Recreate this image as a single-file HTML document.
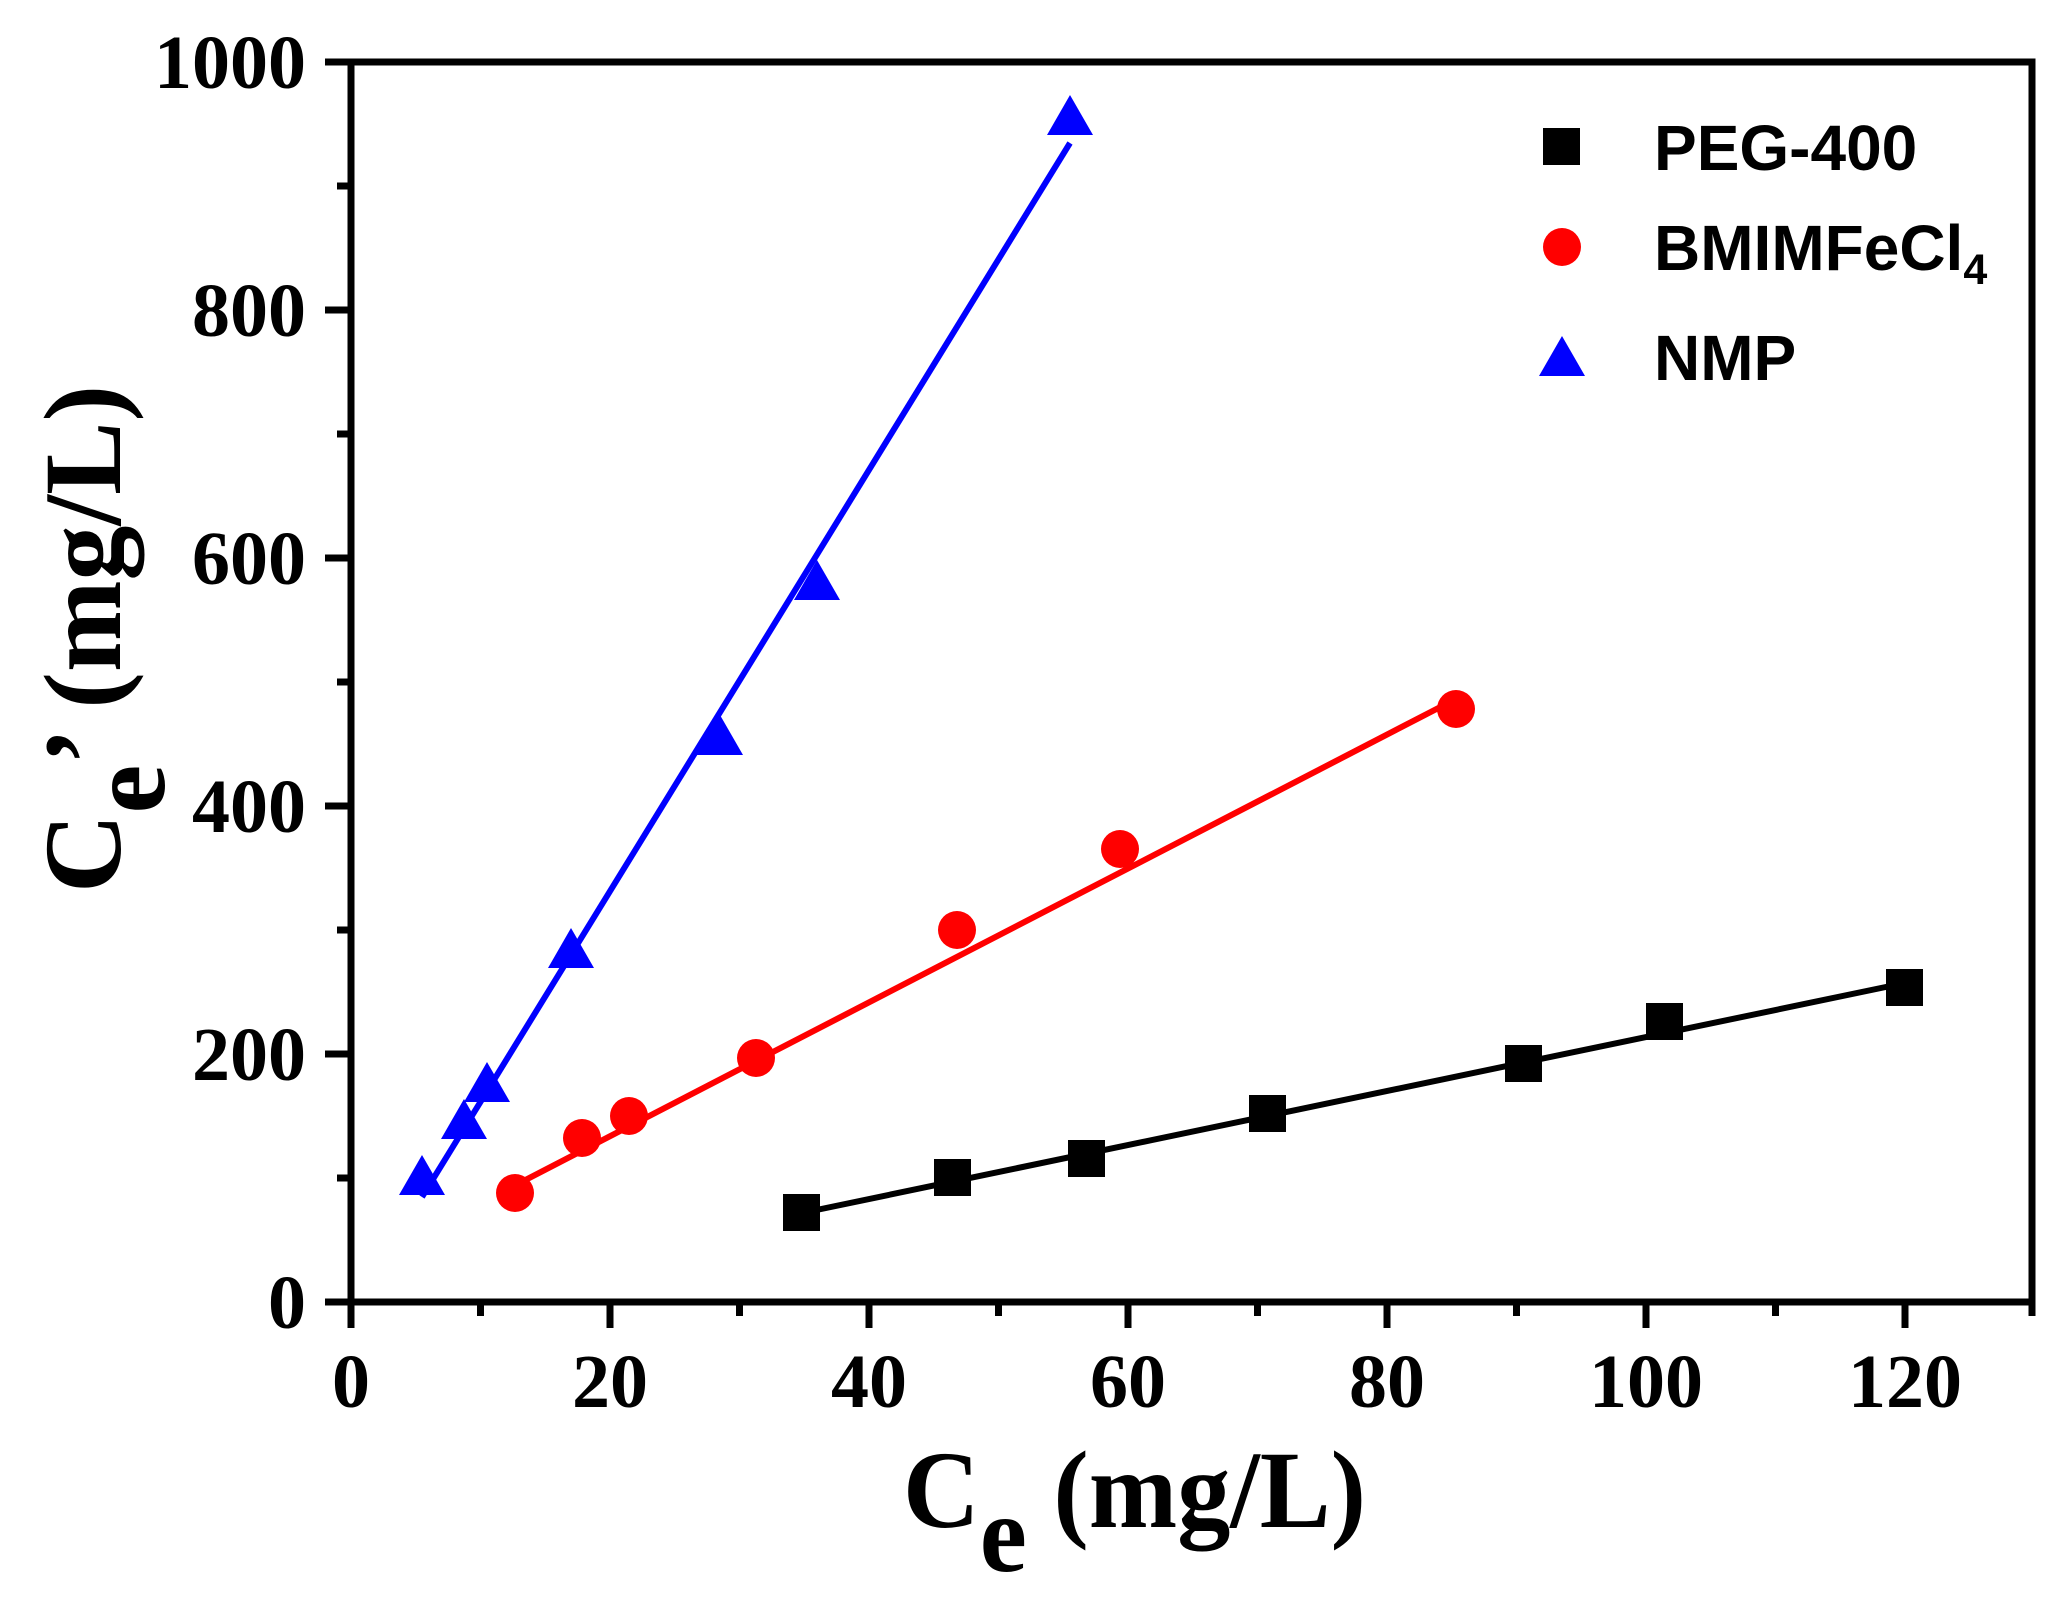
<!DOCTYPE html>
<html><head><meta charset="utf-8"><style>html,body{margin:0;padding:0;background:#fff}svg{display:block}</style></head>
<body>
<svg width="2063" height="1601" viewBox="0 0 2063 1601" xmlns="http://www.w3.org/2000/svg">
<g stroke="#000" stroke-width="7" fill="none">
<rect x="351" y="62" width="1681" height="1240"/>
<path d="M351 1302v26M610 1302v26M869 1302v26M1128 1302v26M1387 1302v26M1646 1302v26M1905 1302v26"/>
<path d="M480.5 1302v14M739.5 1302v14M998.5 1302v14M1257.5 1302v14M1516.5 1302v14M1775.5 1302v14M2032 1302v14"/>
<path d="M351 1302h-26M351 1054h-26M351 806h-26M351 558h-26M351 310h-26M351 62h-26"/>
<path d="M351 1178h-14M351 930h-14M351 682h-14M351 434h-14M351 186h-14"/>
</g>
<g font-family="Liberation Serif, serif" font-weight="bold" font-size="76" fill="#000">
<g text-anchor="middle">
<text x="351" y="1407">0</text><text x="610" y="1407">20</text><text x="869" y="1407">40</text><text x="1128" y="1407">60</text><text x="1387" y="1407">80</text><text x="1646" y="1407">100</text><text x="1905" y="1407">120</text>
</g>
<g text-anchor="end">
<text x="306" y="1328">0</text><text x="306" y="1080">200</text><text x="306" y="832">400</text><text x="306" y="584">600</text><text x="306" y="336">800</text><text x="306" y="88">1000</text>
</g>
<text x="903" y="1527" font-size="110" textLength="463" lengthAdjust="spacingAndGlyphs">C<tspan dy="44">e</tspan><tspan dy="-44"> (mg/L)</tspan></text>
<text transform="translate(120,893) rotate(-90)" font-size="110">C<tspan dy="44">e</tspan><tspan dy="-44">’ (mg/L)</tspan></text>
</g>
<g stroke-width="6" fill="none">
<line x1="422" y1="1197" x2="1070" y2="143" stroke="#0000ff"/>
<line x1="506" y1="1190" x2="1452" y2="701" stroke="#ff0000"/>
<line x1="802" y1="1213" x2="1905" y2="983" stroke="#000"/>
</g>
<g fill="#0000ff">
<path d="M422 1155l23 40h-46z"/><path d="M464 1099l23 40h-46z"/><path d="M487 1062l23 40h-46z"/><path d="M571 928l23 40h-46z"/><path d="M720 715l23 40h-46z"/><path d="M817 560l23 40h-46z"/><path d="M1070 95l23 40h-46z"/>
</g>
<g fill="#ff0000">
<circle cx="515" cy="1193" r="19"/><circle cx="582" cy="1138" r="19"/><circle cx="629" cy="1116" r="19"/><circle cx="756" cy="1058" r="19"/><circle cx="957" cy="930" r="19"/><circle cx="1120" cy="849" r="19"/><circle cx="1456" cy="709" r="19"/>
</g>
<g fill="#000">
<rect x="783" y="1194" width="37" height="37"/><rect x="934" y="1159" width="37" height="37"/><rect x="1068" y="1140" width="37" height="37"/><rect x="1249" y="1095" width="37" height="37"/><rect x="1505" y="1045" width="37" height="37"/><rect x="1646" y="1003" width="37" height="37"/><rect x="1886" y="969" width="37" height="37"/>
</g>
<rect x="1543" y="128" width="37" height="37" fill="#000"/>
<circle cx="1562" cy="247" r="19" fill="#ff0000"/>
<path d="M1562 336l23 40h-46z" fill="#0000ff"/>
<g font-family="Liberation Sans, sans-serif" font-weight="bold" font-size="64" fill="#000">
<text x="1654" y="170">PEG-400</text>
<text x="1654" y="270">BMIMFeCl<tspan font-size="43" dy="14">4</tspan></text>
<text x="1654" y="380">NMP</text>
</g>
</svg>
</body></html>
